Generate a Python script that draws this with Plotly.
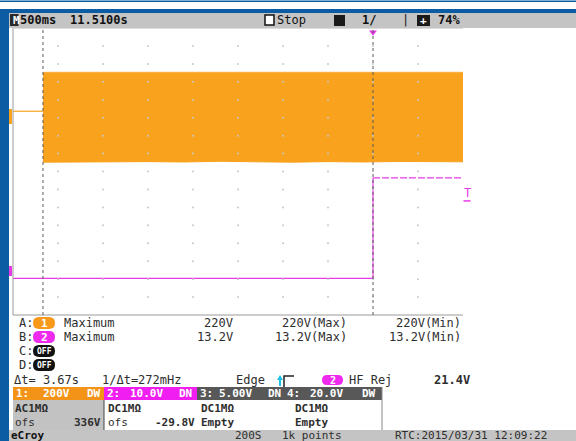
import numpy as np
import plotly.graph_objects as go

W, H = 576, 441

time_range_s = [-4.0, 1.0]            # 10 div x 500 ms/div, trigger at 0
ch1_scale_v, ch1_offset_v = 200.0, 336.0
ch2_scale_v, ch2_offset_v = 10.0, -29.8

ch1_pre_t = [-4.0, -3.667]
ch1_pre_v = [0.0, 0.0]
ch1_env_t = [-3.667, -3.3, -2.9, -2.5, -2.1, -1.7, -1.3, -0.9, -0.5, -0.1, 0.3, 0.7, 1.0]
ch1_env_max = [218, 218, 218, 218, 218, 218, 218, 218, 218, 218, 218, 218, 218]
ch1_env_min = [-284, -282, -283, -281, -283, -279, -282, -284, -281, -283, -280, -283, -282]

ch2_t = [-4.0, 0.0, 0.0, 1.0]
ch2_v = [0.0, 0.0, 28.0, 28.0]

cursor_t = [-3.667, 0.0]
trigger_level_v = 21.4

# ---------------- helpers ----------------
def X(px):
    return px / W

def Y(py):
    return 1 - py / H

ORANGE = "#f8a21e"
MAGENTA = "#e63ae6"
BLUE = "#0c5ca3"
GRAY = "#c4c4c4"
TXT = "#2e2e2e"
FONT = "DejaVu Sans Mono"

ch1_range = [-4 * ch1_scale_v - ch1_offset_v, 4 * ch1_scale_v - ch1_offset_v]
ch2_range = [-4 * ch2_scale_v - ch2_offset_v, 4 * ch2_scale_v - ch2_offset_v]

fig = go.Figure()

# graticule dots (divisions)
gx, gy = np.meshgrid(np.arange(-3.5, 1.0, 0.5), np.arange(-3.5, 4.0, 0.5))
fig.add_trace(go.Scatter(x=gx.ravel(), y=gy.ravel(), mode="markers",
                         marker=dict(size=2, color="#c8c8c8"),
                         xaxis="x", yaxis="y3", hoverinfo="skip", showlegend=False))

# channel 1 (orange)
fig.add_trace(go.Scatter(x=ch1_pre_t, y=ch1_pre_v, mode="lines",
                         line=dict(color=ORANGE, width=1.2), showlegend=False))
fig.add_trace(go.Scatter(x=ch1_env_t, y=ch1_env_max, mode="lines",
                         line=dict(color=ORANGE, width=0.5), showlegend=False))
fig.add_trace(go.Scatter(x=ch1_env_t, y=ch1_env_min, mode="lines", fill="tonexty",
                         fillcolor=ORANGE, line=dict(color=ORANGE, width=1),
                         showlegend=False))

# channel 2 (magenta): low level + step (solid), high level (noisy, dashed look)
fig.add_trace(go.Scatter(x=ch2_t[:3], y=ch2_v[:3], mode="lines", yaxis="y2",
                         line=dict(color=MAGENTA, width=1.2), showlegend=False))
fig.add_trace(go.Scatter(x=ch2_t[2:], y=ch2_v[2:], mode="lines", yaxis="y2",
                         line=dict(color=MAGENTA, width=1.3, dash="7px,2px"),
                         showlegend=False))

# trigger position marker
fig.add_trace(go.Scatter(x=[cursor_t[1]], y=[3.88], mode="markers", yaxis="y3",
                         marker=dict(symbol="triangle-down", size=7, color=MAGENTA),
                         cliponaxis=False, showlegend=False))

shapes = []

def rect(x0, y0, x1, y1, color, line=None, layer="above"):
    d = dict(type="rect", xref="paper", yref="paper", x0=X(x0), x1=X(x1),
             y0=Y(y1), y1=Y(y0), fillcolor=color, layer=layer,
             line=dict(width=0) if line is None else line)
    shapes.append(d)

def pill(x0, y0, x1, y1, color):
    r = (y1 - y0) / 2
    ym = (y0 + y1) / 2
    pts = lambda a, b: f"{X(a):.5f},{Y(b):.5f}"
    p = (f"M{pts(x0 + r, y0)} L{pts(x1 - r, y0)} Q{pts(x1, y0)} {pts(x1, ym)} "
         f"Q{pts(x1, y1)} {pts(x1 - r, y1)} L{pts(x0 + r, y1)} Q{pts(x0, y1)} {pts(x0, ym)} "
         f"Q{pts(x0, y0)} {pts(x0 + r, y0)} Z")
    shapes.append(dict(type="path", xref="paper", yref="paper", path=p,
                       fillcolor=color, line=dict(width=0), layer="above"))

def hline(x0, x1, y, color, width=1):
    shapes.append(dict(type="line", xref="paper", yref="paper", x0=X(x0), x1=X(x1),
                       y0=Y(y), y1=Y(y), line=dict(color=color, width=width)))

def vline(x, y0, y1, color, width=1, dash="solid"):
    shapes.append(dict(type="line", xref="paper", yref="paper", x0=X(x), x1=X(x),
                       y0=Y(y0), y1=Y(y1), line=dict(color=color, width=width, dash=dash)))

# frame
rect(0, 0.5, 576, 2, BLUE)
rect(0, 9, 576, 13, BLUE)
rect(0, 9, 9, 441, BLUE)
rect(9, 13, 576, 28, GRAY)
rect(9, 430, 576, 441, GRAY)
# graticule borders
vline(13, 28, 315, "#9a9a9a")
hline(13, 463, 315, "#9a9a9a")
hline(13, 463, 28.5, "#dddddd")

# cursors
for t in cursor_t:
    shapes.append(dict(type="line", xref="x", yref="paper", x0=t, x1=t,
                       y0=Y(315), y1=Y(29), line=dict(color="#5a5a5a", width=1, dash="dot")))

# left ground markers
rect(9, 109, 12, 124, ORANGE)
rect(9, 266, 12, 276, MAGENTA)

# trigger level marker "T" underline
shapes.append(dict(type="line", xref="paper", yref="y2", x0=X(463.5), x1=X(470.5),
                   y0=trigger_level_v + 0.2, y1=trigger_level_v + 0.2,
                   line=dict(color=MAGENTA, width=1.5)))

# channel bars
rect(13, 387, 104, 400, "#f39418")
rect(104, 387, 197, 400, "#f01ef0")
rect(197, 387, 382, 400, "#585858")
rect(13, 400, 104, 430, "#c2c2c2")
vline(104, 400, 430, "#444444")
vline(382, 387, 430, "#888888")

# pills
pill(33, 317, 55, 329, "#f79a1a")
pill(33, 331, 55, 343, "#ee2aee")
pill(33, 345, 55, 357, "#111111")
pill(33, 359, 55, 371, "#111111")
pill(322, 375, 343, 385, "#ee2aee")

# top-bar icons
rect(10, 14, 18.5, 26, "#2a2a2a")
rect(265, 15, 274, 25, "#ffffff", line=dict(color="#111111", width=1.5))
rect(334, 15, 345, 26, "#1a1a1a")
rect(417, 15, 430, 26, "#1a1a1a")

# edge trigger icon
shapes.append(dict(type="path", xref="paper", yref="paper",
                   path=f"M{X(284):.5f},{Y(387):.5f} L{X(284):.5f},{Y(376):.5f} L{X(294):.5f},{Y(376):.5f}",
                   line=dict(color="#222222", width=1.5)))
vline(280, 386, 379, "#19c0e8", width=2)
shapes.append(dict(type="path", xref="paper", yref="paper",
                   path=f"M{X(277):.5f},{Y(380):.5f} L{X(280):.5f},{Y(375):.5f} L{X(283):.5f},{Y(380):.5f} Z",
                   fillcolor="#19c0e8", line=dict(width=0)))

annotations = []

def txt(x, y, s, anchor="left", color=TXT, size=12, bold=False):
    annotations.append(dict(xref="paper", yref="paper", x=X(x), y=Y(y),
                            text=f"<b>{s}</b>" if bold else s, showarrow=False,
                            xanchor=anchor, yanchor="middle",
                            font=dict(family=FONT, size=size, color=color)))

# top bar
txt(10.5, 20.5, "M", color="#ffffff", size=11, bold=True)
txt(18, 20.5, "500ms", color="#111111", bold=True)
txt(68, 20.5, "11.5100s", color="#111111", bold=True)
txt(275, 20.5, "Stop", color="#111111")
txt(360, 20.5, "1/", color="#111111", bold=True)
txt(400, 20.5, "|", color="#111111")
txt(418, 20.5, "+", color="#ffffff", size=11, bold=True)
txt(436, 20.5, "74%", color="#111111", bold=True)

# trigger level T
annotations.append(dict(xref="paper", yref="y2", x=X(467), y=trigger_level_v,
                        text="T", showarrow=False, xanchor="center", yanchor="bottom",
                        font=dict(family=FONT, size=12, color=MAGENTA)))

# measurement rows
txt(17, 323, "A:")
txt(44, 323, "1", anchor="center", color="#ffffff", size=11, bold=True)
txt(62, 323, "Maximum")
txt(235, 323, "220V", anchor="right")
txt(349, 323, "220V(Max)", anchor="right")
txt(463, 323, "220V(Min)", anchor="right")

txt(17, 337, "B:")
txt(44, 337, "2", anchor="center", color="#ffffff", size=11, bold=True)
txt(62, 337, "Maximum")
txt(235, 337, "13.2V", anchor="right")
txt(349, 337, "13.2V(Max)", anchor="right")
txt(463, 337, "13.2V(Min)", anchor="right")

txt(17, 351, "C:")
txt(44, 351, "OFF", anchor="center", color="#ffffff", size=8, bold=True)
txt(17, 365, "D:")
txt(44, 365, "OFF", anchor="center", color="#ffffff", size=8, bold=True)

txt(12, 380, "Δt= 3.67s")
txt(100, 380, "1/Δt=272mHz")
txt(234, 380, "Edge")
txt(332.5, 380, "2", anchor="center", color="#ffffff", size=10, bold=True)
txt(347, 380, "HF Rej")
txt(432, 380, "21.4V", bold=True)

# channel bars text
txt(14, 393.5, "1:", color="#ffffff", size=11, bold=True)
txt(72, 393.5, "200V", anchor="right", color="#ffffff", size=11, bold=True)
txt(85, 393.5, "DW", color="#ffffff", size=11, bold=True)
txt(105, 393.5, "2:", color="#ffffff", size=11, bold=True)
txt(165, 393.5, "10.0V", anchor="right", color="#ffffff", size=11, bold=True)
txt(177, 393.5, "DN", color="#ffffff", size=11, bold=True)
txt(198, 393.5, "3:", color="#ffffff", size=11, bold=True)
txt(254, 393.5, "5.00V", anchor="right", color="#ffffff", size=11, bold=True)
txt(266, 393.5, "DN", color="#ffffff", size=11, bold=True)
txt(285, 393.5, "4:", color="#ffffff", size=11, bold=True)
txt(345, 393.5, "20.0V", anchor="right", color="#ffffff", size=11, bold=True)
txt(360, 393.5, "DW", color="#ffffff", size=11, bold=True)

# channel info rows
txt(13, 408, "AC1MΩ", size=11, bold=True)
txt(106, 408, "DC1MΩ", size=11, bold=True)
txt(199, 408, "DC1MΩ", size=11, bold=True)
txt(293, 408, "DC1MΩ", size=11, bold=True)
txt(13, 422, "ofs", size=11)
txt(103, 422, "336V", anchor="right", size=11, bold=True)
txt(106, 422, "ofs", size=11)
txt(197, 422, "-29.8V", anchor="right", size=11, bold=True)
txt(199, 422, "Empty", size=11, bold=True)
txt(293, 422, "Empty", size=11, bold=True)

# bottom bar
txt(9, 435, "eCroy", color="#111111", size=11, bold=True)
txt(233, 435.5, "200S", size=11)
txt(280, 435.5, "1k points", size=11)
txt(393, 435.5, "RTC:2015/03/31 12:09:22", size=11)

ydom = [Y(315), Y(28)]
fig.update_layout(
    width=W, height=H,
    margin=dict(l=0, r=0, t=0, b=0),
    paper_bgcolor="#ffffff", plot_bgcolor="#ffffff",
    showlegend=False,
    xaxis=dict(domain=[X(13), X(463)], range=time_range_s, visible=False, fixedrange=True),
    yaxis=dict(domain=ydom, range=ch1_range, visible=False),
    yaxis2=dict(domain=ydom, range=ch2_range, visible=False, overlaying="y"),
    yaxis3=dict(domain=ydom, range=[-4, 4], visible=False, overlaying="y"),
    shapes=shapes,
    annotations=annotations,
)

fig.write_html("out.html", config={"displayModeBar": False},
               post_script="document.body.style.margin='0px';document.body.style.overflow='hidden';")
